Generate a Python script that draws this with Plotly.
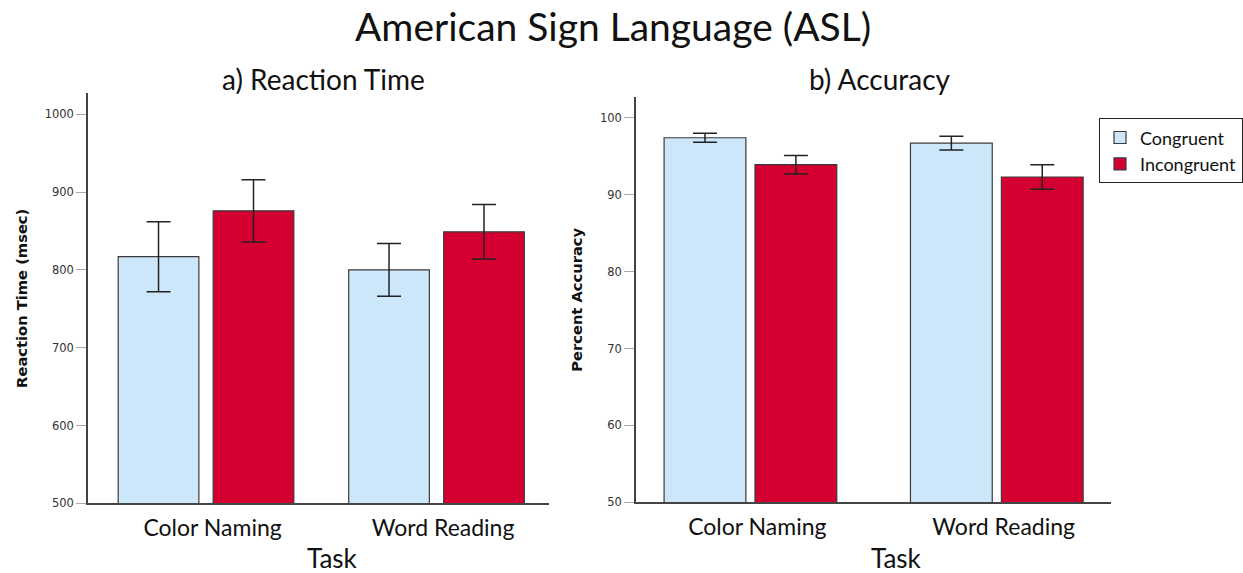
import plotly.graph_objects as go

# Tasks and conditions
tasks = ["Color Naming", "Word Reading"]
conditions = ["Congruent", "Incongruent"]

# Reaction time (msec): means and error-bar half-widths
rt_congruent = [817, 800]
rt_incongruent = [876, 849]
rt_congruent_err = [45, 34]
rt_incongruent_err = [40, 35]

# Percent accuracy: means and error-bar half-widths
acc_congruent = [97.4, 96.7]
acc_incongruent = [93.9, 92.3]
acc_congruent_err = [0.6, 0.9]
acc_incongruent_err = [1.2, 1.6]

rt_ticks = [500, 600, 700, 800, 900, 1000]
acc_ticks = [50, 60, 70, 80, 90, 100]

BLUE = "#CCE6FA"
RED = "#D50032"
OUTLINE = "#3a3a3a"
LABEL_FONT = "Lato, 'Open Sans', sans-serif"
TICK_FONT = "DejaVu Sans, sans-serif"

W, H = 1243, 573
HV = 566  # vertical layout reference height (pixels)


def fx(px):
    return px / W


def fy(py):
    return 1 - py / HV


fig = go.Figure()


def add_bar(x, y, err, color, name, xa, ya, width, offset, show):
    fig.add_trace(go.Bar(
        x=x, y=y, name=name, legendgroup=name, showlegend=show,
        xaxis=xa, yaxis=ya, width=width, offset=offset,
        marker=dict(color=color, line=dict(color=OUTLINE, width=1.2)),
        error_y=dict(type="data", array=err, visible=True,
                     color="#222222", thickness=1.5, width=12),
    ))


# a) Reaction time
add_bar(tasks, rt_congruent, rt_congruent_err, BLUE, conditions[0], "x", "y", 0.35, -0.379, True)
add_bar(tasks, rt_incongruent, rt_incongruent_err, RED, conditions[1], "x", "y", 0.35, 0.033, True)
# b) Accuracy
add_bar(tasks, acc_congruent, acc_congruent_err, BLUE, conditions[0], "x2", "y2", 0.332, -0.35, False)
add_bar(tasks, acc_incongruent, acc_incongruent_err, RED, conditions[1], "x2", "y2", 0.332, 0.019, False)

xaxis_common = dict(
    type="category", showline=True, linecolor="#444444", linewidth=1.5,
    ticks="", showgrid=False, zeroline=False,
    tickfont=dict(family=LABEL_FONT, size=23, color="#111111"),
    ticklabelshift=7, ticklabelstandoff=3,
    fixedrange=True,
)
yaxis_common = dict(
    showline=True, linecolor="#444444", linewidth=1.5,
    ticks="outside", ticklen=10, tickcolor="#aaaaaa", tickwidth=1,
    showgrid=False, zeroline=False,
    tickfont=dict(family=TICK_FONT, size=11.5, color="#333333"),
    title_font=dict(family=TICK_FONT, size=14.7, color="#111111"),
    fixedrange=True,
)

fig.update_layout(
    width=W, height=H,
    margin=dict(l=0, r=0, t=0, b=0),
    paper_bgcolor="white", plot_bgcolor="white",
    barmode="overlay",
    xaxis=dict(xaxis_common, domain=[fx(88), fx(549)], range=[-0.51, 1.49], anchor="y"),
    xaxis2=dict(xaxis_common, domain=[fx(636), fx(1111)], range=[-0.464, 1.464], anchor="y2"),
    yaxis=dict(yaxis_common, domain=[fy(503.3), fy(93.3)], range=[500, 1027],
               tickvals=rt_ticks, anchor="x",
               title=dict(text="<b>Reaction Time (msec)</b>", standoff=14)),
    yaxis2=dict(yaxis_common, domain=[fy(502.3), fy(97.3)], range=[50, 102.66],
                tickvals=acc_ticks, anchor="x2",
                title=dict(text="<b>Percent Accuracy</b>", standoff=14)),
    legend=dict(
        x=fx(1099), y=fy(118.3), xanchor="left", yanchor="top",
        bordercolor="#222222", borderwidth=1, bgcolor="white",
        font=dict(family=LABEL_FONT, size=18, color="#111111"),
        itemwidth=30, tracegroupgap=0,
    ),
    showlegend=True,
)

annotations = [
    dict(text="American Sign Language (ASL)", x=fx(613), y=fy(26), size=39),
    dict(text="a) Reaction Time", x=fx(323), y=fy(79), size=28),
    dict(text="b) Accuracy", x=fx(880), y=fy(79), size=28),
    dict(text="Task", x=fx(333), y=fy(558), size=26),
    dict(text="Task", x=fx(896), y=fy(558), size=26),
]
fig.update_layout(annotations=[
    dict(text=a["text"], x=a["x"], y=a["y"], xref="paper", yref="paper",
         xanchor="center", yanchor="middle", showarrow=False,
         font=dict(family=LABEL_FONT, size=a["size"], color="#111111"))
    for a in annotations
])

fig.write_html("out.html")
